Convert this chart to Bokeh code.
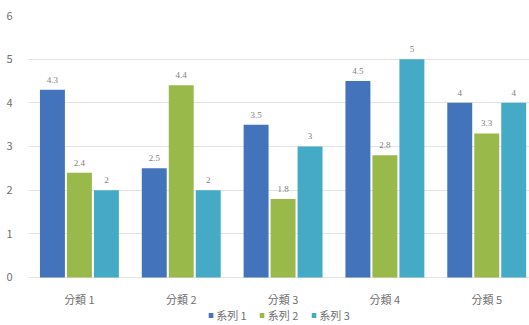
import numpy as np
from bokeh.plotting import figure
from bokeh.models import ColumnDataSource, FixedTicker, Range1d, Legend, LegendItem, LabelSet
from bokeh.embed import file_html
from bokeh.resources import INLINE

categories = ["分類 1", "分類 2", "分類 3", "分類 4", "分類 5"]
series_names = ["系列 1", "系列 2", "系列 3"]
series1 = [4.3, 2.5, 3.5, 4.5, 4]
series2 = [2.4, 4.4, 1.8, 2.8, 3.3]
series3 = [2, 2, 3, 5, 4]
y_ticks = [0, 1, 2, 3, 4, 5, 6]

colors = ["#4373BA", "#99BA4A", "#45AAC6"]
FONT = "Noto Sans CJK TC"

p = figure(width=529, height=325, output_backend="svg", toolbar_location=None,
           x_range=Range1d(-0.5, 4.42), y_range=Range1d(-1.1, 6),
           min_border_left=28, min_border_right=0, min_border_top=15, min_border_bottom=0)
p.outline_line_color = None

base = list(range(len(categories)))
offsets = [-0.265, 0.0, 0.265]
items = []
for vals, off, col, name in zip([series1, series2, series3], offsets, colors, series_names):
    src = ColumnDataSource(dict(x=[b + off for b in base], top=vals, lab=[f"{v:g}" for v in vals]))
    r = p.vbar(x="x", top="top", bottom=0, width=0.245, source=src, fill_color=col, line_color=None)
    items.append(LegendItem(label=name, renderers=[r]))
    labels = LabelSet(x="x", y="top", text="lab", source=src, text_align="center",
                      text_baseline="bottom", y_offset=7, text_font_size="9px",
                      text_color="#7f7f7f", text_font=FONT)
    p.add_layout(labels)

p.xaxis.ticker = FixedTicker(ticks=base)
p.xaxis.major_label_overrides = {i: c for i, c in zip(base, categories)}
p.xaxis.fixed_location = 0
p.yaxis.ticker = FixedTicker(ticks=y_ticks)
for ax in (p.xaxis, p.yaxis):
    ax.axis_line_color = None
    ax.major_tick_line_color = None
    ax.minor_tick_line_color = None
    ax.major_label_text_font = FONT
    ax.major_label_text_font_size = "11px"
    ax.major_label_text_color = "#6f6f6f"
p.xaxis.major_label_standoff = 8
p.yaxis.major_label_standoff = 10
p.xgrid.grid_line_color = None
p.ygrid.grid_line_color = "#e3e3e3"
p.ygrid.ticker = FixedTicker(ticks=y_ticks)

legend = Legend(items=items, orientation="horizontal", location="bottom_center",
                glyph_width=6, glyph_height=6, label_text_font=FONT,
                label_text_font_size="11px", label_text_color="#6f6f6f",
                border_line_alpha=0, padding=0, margin=2, spacing=12,
                label_standoff=3, background_fill_alpha=0)
p.add_layout(legend)

open("out.html", "w").write(file_html(p, INLINE))
